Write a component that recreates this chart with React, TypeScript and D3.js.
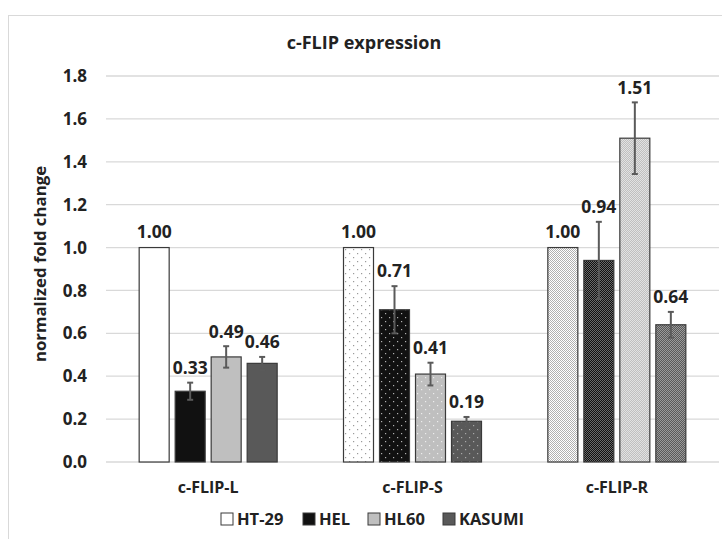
import React from 'react';
import * as d3 from 'd3';

const categories = ['c-FLIP-L', 'c-FLIP-S', 'c-FLIP-R'];
const seriesNames = ['HT-29', 'HEL', 'HL60', 'KASUMI'];
const ht29Values = [1.0, 1.0, 1.0];
const helValues = [0.33, 0.71, 0.94];
const hl60Values = [0.49, 0.41, 1.51];
const kasumiValues = [0.46, 0.19, 0.64];
const ht29Err = [0, 0, 0];
const helErr = [0.04, 0.11, 0.18];
const hl60Err = [0.05, 0.053, 0.167];
const kasumiErr = [0.03, 0.02, 0.06];
const yTicks = [0, 0.2, 0.4, 0.6, 0.8, 1.0, 1.2, 1.4, 1.6, 1.8];
const title = 'c-FLIP expression';
const yTitle = 'normalized fold change';

const seriesValues = [ht29Values, helValues, hl60Values, kasumiValues];
const seriesErr = [ht29Err, helErr, hl60Err, kasumiErr];

const baseColors = ['#ffffff', '#111111', '#bfbfbf', '#595959'];
const dotColors = ['#9a9a9a', '#b0b0b0', '#ececec', '#a8a8a8'];
const checkColors = ['#b0b0b0', '#6a6a6a', '#e2e2e2', '#9a9a9a'];

const W = 722;
const H = 539;
const FONT = "'Open Sans', sans-serif";

export default function App() {
  const x = d3.scaleBand<string>().domain(categories).range([106, 719]).paddingInner(0).paddingOuter(0);
  const inner = d3
    .scaleBand<string>()
    .domain(seriesNames)
    .range([-72, 72])
    .paddingInner(1 / 6)
    .paddingOuter(1 / 12);
  const y = d3.scaleLinear().domain([0, 1.8]).range([462, 76]);

  const fillFor = (si: number, ci: number) => {
    if (ci === 0) return baseColors[si];
    if (ci === 1) return `url(#dots${si})`;
    return `url(#check${si})`;
  };

  const checkCells = [
    [0, 0], [2, 0], [1, 1], [3, 1], [0, 2], [2, 2], [1, 3], [3, 3],
  ];

  return (
    <svg width={W} height={H} style={{ position: 'absolute', left: 0, top: 0 }} fontFamily={FONT}>
      <defs>
        {seriesNames.map((s, si) => (
          <pattern key={'d' + s} id={`dots${si}`} width={8} height={8} patternUnits="userSpaceOnUse">
            <rect width={8} height={8} fill={baseColors[si]} />
            <rect x={1} y={1} width={1.2} height={1.2} fill={dotColors[si]} />
            <rect x={5} y={5} width={1.2} height={1.2} fill={dotColors[si]} />
          </pattern>
        ))}
        {seriesNames.map((s, si) => (
          <pattern key={'c' + s} id={`check${si}`} width={4} height={4} patternUnits="userSpaceOnUse">
            <rect width={4} height={4} fill={baseColors[si]} />
            {checkCells.map(([cx, cy]) => (
              <rect key={`${cx}-${cy}`} x={cx} y={cy} width={1} height={1} fill={checkColors[si]} />
            ))}
          </pattern>
        ))}
      </defs>
      <rect x={0} y={0} width={W} height={H} fill="#ffffff" />
      <rect x={8.5} y={15.5} width={720} height={540} fill="none" stroke="#d9d9d9" strokeWidth={1} />

      <text x={364} y={49} textAnchor="middle" fontSize={18} fontWeight="bold" fill="#222">
        {title}
      </text>

      {yTicks.map((t) => (
        <g key={t}>
          <line x1={106} x2={719} y1={y(t)} y2={y(t)} stroke="#d9d9d9" strokeWidth={1.3} />
          <text x={87} y={y(t)} dy="0.36em" textAnchor="end" fontSize={17} fontWeight="bold" fill="#222">
            {t.toFixed(1)}
          </text>
        </g>
      ))}

      <text
        transform={`translate(40, 264) rotate(-90)`}
        textAnchor="middle"
        dy="0.35em"
        fontSize={16.8}
        fontWeight="bold"
        fill="#222"
      >
        {yTitle}
      </text>

      {categories.map((c, ci) => {
        const cx = (x(c) as number) + x.bandwidth() / 2;
        return (
          <g key={c}>
            {seriesNames.map((s, si) => {
              const v = seriesValues[si][ci];
              const e = seriesErr[si][ci];
              const bx = cx + (inner(s) as number);
              const bw = inner.bandwidth();
              const mid = bx + bw / 2;
              const top = e > 0 ? y(v + e) : y(v);
              return (
                <g key={s}>
                  <rect
                    x={bx}
                    y={y(v)}
                    width={bw}
                    height={y(0) - y(v)}
                    fill={fillFor(si, ci)}
                    stroke="#3a3a3a"
                    strokeWidth={1.2}
                  />
                  {e > 0 && (
                    <g stroke="#5a5a5a" strokeWidth={2}>
                      <line x1={mid} x2={mid} y1={y(v + e)} y2={y(v - e)} />
                      <line x1={mid - 3} x2={mid + 3} y1={y(v + e)} y2={y(v + e)} />
                      <line x1={mid - 3} x2={mid + 3} y1={y(v - e)} y2={y(v - e)} />
                    </g>
                  )}
                  <text
                    x={mid}
                    y={top - (e > 0 ? 15 : 16)}
                    dy="0.36em"
                    textAnchor="middle"
                    fontSize={17.5}
                    fontWeight="bold"
                    fill="#222"
                  >
                    {v.toFixed(2)}
                  </text>
                </g>
              );
            })}
            <text x={cx} y={487} dy="0.36em" textAnchor="middle" fontSize={16} fontWeight="bold" fill="#222">
              {c}
            </text>
          </g>
        );
      })}

      {(() => {
        const legendX = [221, 303, 368, 443];
        return seriesNames.map((s, si) => (
          <g key={s}>
            <rect x={legendX[si]} y={513} width={12} height={12} fill={baseColors[si]} stroke="#3a3a3a" strokeWidth={1} />
            <text x={legendX[si] + 16} y={519} dy="0.36em" fontSize={16.5} fontWeight="bold" fill="#222">
              {s}
            </text>
          </g>
        ));
      })()}
    </svg>
  );
}
